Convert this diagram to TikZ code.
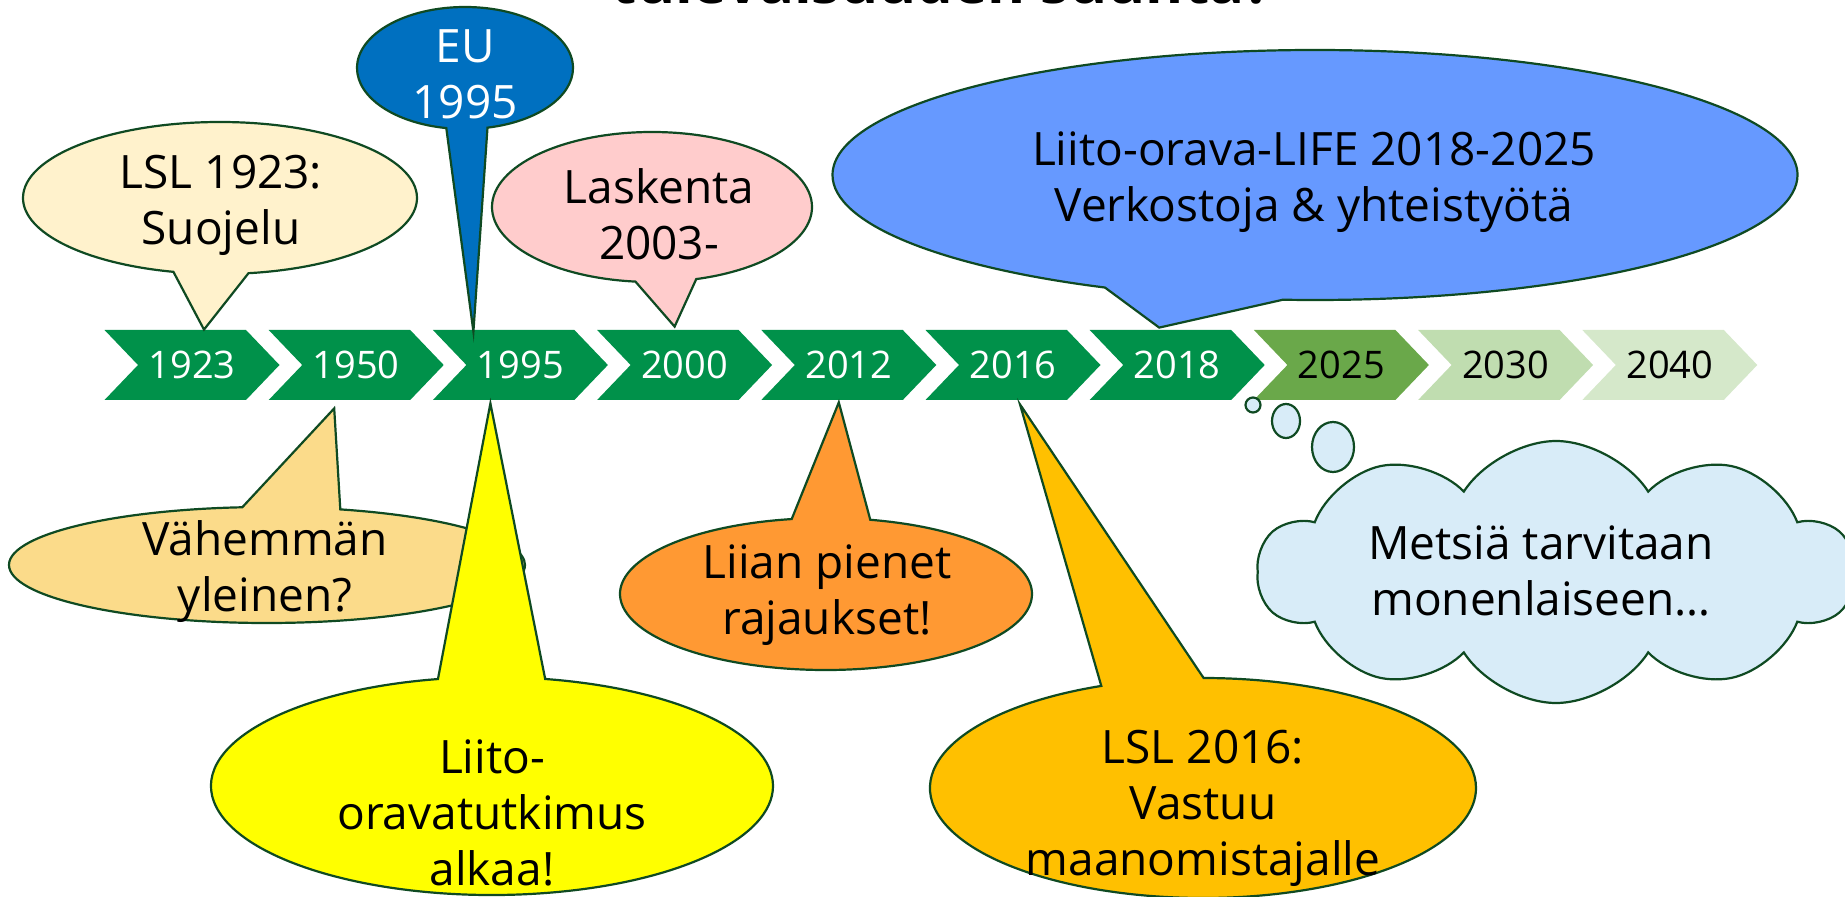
\documentclass[tikz,border=0pt]{standalone}
\usepackage{fontspec}
\setmainfont{Open Sans}
\usepackage{tikz}
\usetikzlibrary{shapes.symbols,shapes.callouts,shapes.geometric,calc,positioning}

\definecolor{edgegreen}{HTML}{0F4A22}
\definecolor{chevdark}{HTML}{00914A}
\definecolor{chevmid}{HTML}{6AA84A}
\definecolor{chevlight}{HTML}{C0DDB0}
\definecolor{chevpale}{HTML}{D5E8CA}
\definecolor{cream}{HTML}{FFF2CC}
\definecolor{eublue}{HTML}{0070C0}
\definecolor{rose}{HTML}{FFCCCC}
\definecolor{lifeblue}{HTML}{6699FF}
\definecolor{sand}{HTML}{FBDB8A}
\definecolor{lemon}{HTML}{FFFF00}
\definecolor{tangerine}{HTML}{FF9933}
\definecolor{amber}{HTML}{FFC000}
\definecolor{sky}{HTML}{D8ECF8}

\tikzset{
    year/.style={
           signal, signal from=west, signal to=east,
           signal pointer angle=92.5,
           fill=chevdark, draw=none,
           minimum width=87.5pt,
           minimum height=35pt,
           inner sep=0pt,
           text=white,
           font=\fontsize{19}{19}\selectfont,
           },
    bubble/.style={
           ellipse callout,
           callout pointer arc=22,
           draw=edgegreen, line width=1.1pt,
           inner sep=0pt,
           },
    saying/.style={
           align=center,
           font=\fontsize{23}{28}\selectfont,
           },
    puff/.style={
           ellipse,
           draw=edgegreen, line width=1.1pt,
           fill=sky,
           inner sep=0pt,
           },
}

\begin{document}
\begin{tikzpicture}[x=0.5pt, y=-0.5pt]
    \useasboundingbox (0,0) rectangle (1845,897);
    \clip (0,0) rectangle (1845,897);

    % title, only the lower edge is left on the slide
    \node[anchor=base, font=\fontsize{29}{29}\selectfont\bfseries] (title) at (942,3.5)
    {tulevaisuuden suunta?};

    % time line
    \node[year] (c1923) at (192,365) {1923};
    \node[year, right of=c1923, node distance=82.1pt] (c1950) {1950};
    \node[year, right of=c1950, node distance=82.1pt] (c1995) {1995};
    \node[year, right of=c1995, node distance=82.1pt] (c2000) {2000};
    \node[year, right of=c2000, node distance=82.1pt] (c2012) {2012};
    \node[year, right of=c2012, node distance=82.1pt] (c2016) {2016};
    \node[year, right of=c2016, node distance=82.1pt] (c2018) {2018};
    \node[year, right of=c2018, node distance=82.1pt,
    fill=chevmid, text=black] (c2025) {2025};
    \node[year, right of=c2025, node distance=82.1pt,
    fill=chevlight, text=black] (c2030) {2030};
    \node[year, right of=c2030, node distance=82.1pt,
    fill=chevpale, text=black] (c2040) {2040};

    % callouts above the line
    \node[bubble, fill=cream,
    minimum width=197pt, minimum height=76pt,
    callout absolute pointer={($(c1923.north)+(12,0)$)}] (b1923) at (220,198) {};
    \node[saying] (t1923) at (221,205) {LSL 1923:\\Suojelu};

    \node[bubble, fill=eublue,
    minimum width=108pt, minimum height=61pt,
    callout absolute pointer={($(c1995.north)+(-47,2)$)}] (beu) at (465,68) {};
    \node[saying, text=white] (teu) at (465,74) {EU\\1995};

    \node[bubble, fill=rose,
    minimum width=160pt, minimum height=75pt,
    callout absolute pointer={($(c2000.north)+(-10,-3)$)}] (b2000) at (652,207) {};
    \node[saying] (t2000) at (659,214) {Laskenta\\2003-};

    \node[bubble, fill=lifeblue,
    minimum width=482.5pt, minimum height=125pt,
    callout absolute pointer={($(c2018.north)+(-18,-2)$)}] (blife) at (1315,175) {};
    \node[saying] (tlife) at (1314,182) {Liito-orava-LIFE 2018-2025\\Verkostoja \& yhteistyötä};

    % callouts below the line
    \node[bubble, fill=sand,
    minimum width=258pt, minimum height=58pt,
    callout absolute pointer={($(c1950.south)+(-22,8)$)}] (b1950) at (267,565) {};
    \node[saying] (t1950) at (265,572) {Vähemmän\\yleinen?};

    \node[bubble, fill=lemon,
    minimum width=281pt, minimum height=109pt,
    callout absolute pointer={($(c1995.south)+(-30,3)$)}] (b1995) at (492,786) {};
    \node[saying] (t1995) at (492,813) {Liito-\\oravatutkimus\\alkaa!};

    \node[bubble, fill=tangerine,
    minimum width=206pt, minimum height=76pt,
    callout absolute pointer={($(c2012.south)+(-10,2)$)}] (b2012) at (826,594) {};
    \node[saying] (t2012) at (827,595) {Liian pienet\\rajaukset!};

    \node[bubble, fill=amber,
    minimum width=273pt, minimum height=110pt,
    callout absolute pointer={($(c2016.south)+(7,4)$)}] (b2016) at (1203,788) {};
    \node[saying] (t2016) at (1203,808) {LSL 2016:\\Vastuu\\maanomistajalle};

    % thought cloud after 2025
    \node[puff, minimum width=7.5pt, minimum height=7.5pt] (p1) at (1253,405) {};
    \node[puff, minimum width=14pt, minimum height=17pt] (p2) at (1286,421) {};
    \node[puff, minimum width=21pt, minimum height=25pt] (p3) at (1333,447) {};
    \node[cloud, cloud puffs=10, cloud puff arc=115, cloud ignores aspect,
    draw=edgegreen, line width=1.1pt, fill=sky,
    minimum width=298pt, minimum height=131pt,
    inner sep=0pt] (thought) at (1556,572) {};
    \node[saying] (tthought) at (1541,571) {Metsiä tarvitaan\\monenlaiseen…};
\end{tikzpicture}
\end{document}
